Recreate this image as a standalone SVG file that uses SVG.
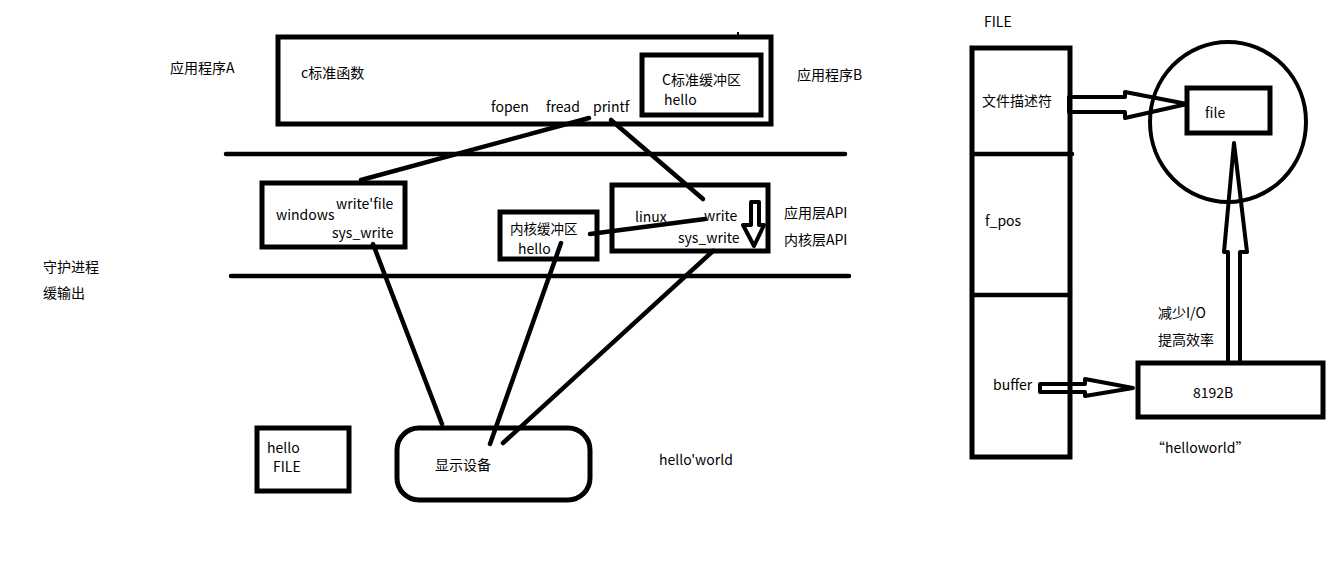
<svg xmlns="http://www.w3.org/2000/svg" width="1341" height="577" viewBox="0 0 1341 577">
<style>
text{font-family:"Noto Sans CJK SC","Liberation Sans",sans-serif;font-size:14px;fill:#000}
.box{fill:none;stroke:#000;stroke-width:5}
.ln{stroke:#000;stroke-width:4.5;stroke-linecap:round;fill:none}
.thin{fill:none;stroke:#000;stroke-width:4;stroke-linejoin:round}
</style>
<rect width="1341" height="577" fill="#fff"/>
<g id="labels">
<text x="170" y="73">应用程序A</text>
<text x="797" y="80">应用程序B</text>
<text x="43" y="272">守护进程</text>
<text x="43" y="298">缓输出</text>
<text x="784" y="218">应用层API</text>
<text x="784" y="245">内核层API</text>
<text x="659" y="465">hello'world</text>
<text x="984" y="27">FILE</text>
<text x="1158" y="318">减少I/O</text>
<text x="1158" y="345">提高效率</text>
<text x="1151" y="453">“helloworld”</text>
</g>
<g id="layers">
<line class="ln" x1="226" y1="154" x2="845" y2="154"/>
<line class="ln" x1="231" y1="276" x2="849" y2="276"/>
</g>
<g id="appBox">
<rect class="box" x="278" y="37" width="493" height="87"/>
<line stroke="#000" stroke-width="2" x1="738" y1="32" x2="738" y2="39"/>
<text x="301" y="78">c标准函数</text>
<text x="491" y="112">fopen</text>
<text x="546" y="112">fread</text>
<text x="593" y="112">printf</text>
</g>
<g id="cBuffer">
<rect class="box" x="642" y="55" width="119" height="60"/>
<text x="662" y="85">C标准缓冲区</text>
<text x="664" y="105">hello</text>
</g>
<g id="windows">
<rect class="box" x="262" y="183" width="143" height="64"/>
<text x="336" y="209">write'file</text>
<text x="276" y="220">windows</text>
<text x="332" y="238">sys_write</text>
</g>
<g id="kernelBuffer">
<rect class="box" x="500" y="212" width="97" height="47"/>
<text x="510" y="234" style="font-size:13.5px">内核缓冲区</text>
<text x="518" y="254">hello</text>
</g>
<g id="linux">
<rect class="box" x="612" y="185" width="156" height="66"/>
<text x="635" y="222">linux</text>
<text x="704" y="221">write</text>
<text x="678" y="243">sys_write</text>
<path class="thin" d="M751 202 L759 202 L759 225 L764 225 L754 246 L743 225 L751 225 Z"/>
</g>
<g id="display">
<rect class="box" x="397" y="428" width="193" height="72" rx="22" ry="22"/>
<text x="435" y="470">显示设备</text>
</g>
<g id="helloFile">
<rect class="box" x="257" y="428" width="92" height="63"/>
<text x="267" y="453">hello</text>
<text x="273" y="472">FILE</text>
</g>
<g id="connectors">
<line class="ln" x1="589" y1="118" x2="361" y2="180"/>
<line class="ln" x1="611" y1="120" x2="703" y2="199"/>
<line class="ln" x1="705" y1="219" x2="590" y2="234"/>
<line class="ln" x1="373" y1="244" x2="442" y2="424"/>
<line class="ln" x1="561" y1="243" x2="490" y2="444"/>
<line class="ln" x1="713" y1="251" x2="503" y2="443"/>
<path class="thin" d="M1069 97 L1125 97 L1125 92 L1187 104 L1125 118 L1125 112 L1069 112 Z"/>
<path class="thin" d="M1040 384 L1085 384 L1085 379 L1133 388 L1085 396 L1085 392 L1040 392 Z"/>
<path class="thin" d="M1228 362 L1228 252 L1224 252 L1234 143 L1247 252 L1240 252 L1240 362"/>
</g>
<g id="fileStruct">
<rect class="box" x="972" y="48" width="98" height="409"/>
<line class="ln" x1="972" y1="154" x2="1072" y2="154"/>
<line class="ln" x1="972" y1="295" x2="1070" y2="295"/>
<text x="982" y="106">文件描述符</text>
<text x="985" y="226">f_pos</text>
<text x="993" y="390">buffer</text>
</g>
<g id="fileCircle">
<ellipse cx="1228" cy="122" rx="78" ry="80" fill="none" stroke="#000" stroke-width="4"/>
<rect class="box" x="1187" y="88" width="83" height="45"/>
<text x="1205" y="118">file</text>
</g>
<g id="buffer8192">
<rect class="box" x="1138" y="363" width="185" height="54"/>
<text x="1193" y="398">8192B</text>
</g>
</svg>
